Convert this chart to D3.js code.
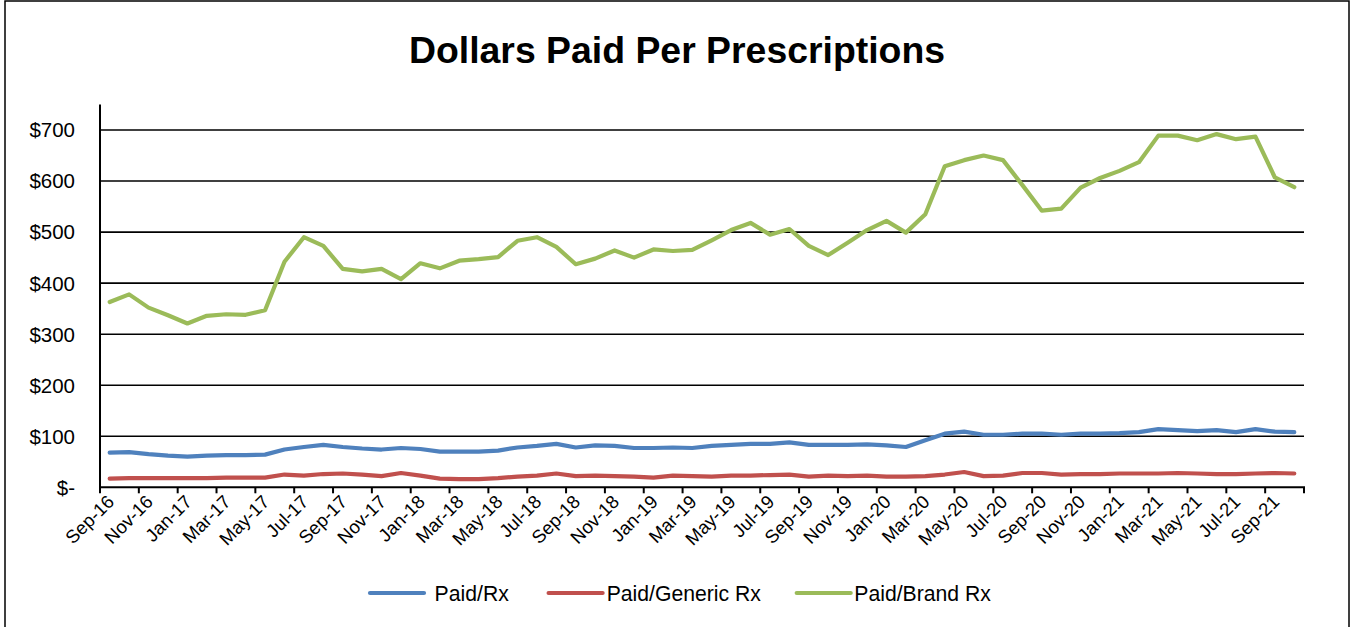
<!DOCTYPE html>
<html>
<head>
<meta charset="utf-8">
<script src="https://cdn.jsdelivr.net/npm/d3@7"></script>
<style>
  html, body { margin: 0; padding: 0; background: #ffffff; }
  svg { display: block; }
  text { font-family: "Liberation Sans", Arial, sans-serif; fill: #000; }
</style>
</head>
<body>
<svg id="chart" width="1356" height="627"></svg>
<script>
// Monthly categories, Sep 2016 through Oct 2021
const categories = [
  "Sep-16","Oct-16","Nov-16","Dec-16",
  "Jan-17","Feb-17","Mar-17","Apr-17","May-17","Jun-17","Jul-17","Aug-17","Sep-17","Oct-17","Nov-17","Dec-17",
  "Jan-18","Feb-18","Mar-18","Apr-18","May-18","Jun-18","Jul-18","Aug-18","Sep-18","Oct-18","Nov-18","Dec-18",
  "Jan-19","Feb-19","Mar-19","Apr-19","May-19","Jun-19","Jul-19","Aug-19","Sep-19","Oct-19","Nov-19","Dec-19",
  "Jan-20","Feb-20","Mar-20","Apr-20","May-20","Jun-20","Jul-20","Aug-20","Sep-20","Oct-20","Nov-20","Dec-20",
  "Jan-21","Feb-21","Mar-21","Apr-21","May-21","Jun-21","Jul-21","Aug-21","Sep-21","Oct-21"
];

// Axis labels shown every other month
const xTickLabels = [
  "Sep-16","Nov-16","Jan-17","Mar-17","May-17","Jul-17","Sep-17","Nov-17",
  "Jan-18","Mar-18","May-18","Jul-18","Sep-18","Nov-18","Jan-19","Mar-19",
  "May-19","Jul-19","Sep-19","Nov-19","Jan-20","Mar-20","May-20","Jul-20",
  "Sep-20","Nov-20","Jan-21","Mar-21","May-21","Jul-21","Sep-21"
];

const yTickValues = [0, 100, 200, 300, 400, 500, 600, 700];
const yTickLabels = ["$-", "$100", "$200", "$300", "$400", "$500", "$600", "$700"];

// Dollars paid per prescription, by month
const paidRx = [
  68, 69, 65, 62, 60, 62, 63, 63, 64, 74, 79, 83, 79, 76, 74, 77, 75, 70, 70, 70, 72,
  78, 81, 85, 78, 82, 81, 77, 77, 78, 77, 81, 83, 85, 85, 88, 83, 83, 83, 84, 82,
  79, 92, 105, 109, 103, 103, 105, 105, 103, 105, 105, 106, 108, 114, 112, 110, 112, 108, 114, 109, 108
];
const paidGenericRx = [
  17, 18, 18, 18, 18, 18, 19, 19, 19, 25, 23, 26, 27, 25, 22, 28, 23, 17, 16, 16, 18,
  21, 23, 27, 22, 23, 22, 21, 19, 23, 22, 21, 23, 23, 24, 25, 21, 23, 22, 23, 21,
  21, 22, 25, 30, 22, 23, 28, 28, 25, 26, 26, 27, 27, 27, 28, 27, 26, 26, 27, 28, 27
];
const paidBrandRx = [
  363, 378, 352, 337, 321, 336, 339, 338, 347, 442, 490, 473, 428, 423, 428, 408, 439, 429, 444, 447, 451,
  483, 490, 471, 437, 448, 464, 450, 466, 463, 465, 484, 504, 518, 495, 506, 473, 455, 479, 504, 522,
  499, 535, 629, 641, 650, 641, 592, 542, 546, 587, 606, 620, 637, 689, 689, 680, 692, 682, 687, 607, 588
];

const seriesNames = ["Paid/Rx", "Paid/Generic Rx", "Paid/Brand Rx"];
const seriesColors = ["#4F81BD", "#C0504D", "#9BBB59"];
const seriesValues = [paidRx, paidGenericRx, paidBrandRx];

const svg = d3.select("#chart");

// Outer chart frame
svg.append("rect")
  .attr("x", 5).attr("y", 1)
  .attr("width", 1344).attr("height", 640)
  .attr("fill", "none").attr("stroke", "#000").attr("stroke-width", 1.5);

// Title
svg.append("text")
  .attr("x", 677).attr("y", 63)
  .attr("text-anchor", "middle")
  .style("font-size", "37.4px").style("font-weight", "bold")
  .text("Dollars Paid Per Prescriptions");

const plot = { left: 100, right: 1304, top: 104.5, bottom: 487.3 };

const x = d3.scaleBand()
  .domain(categories)
  .range([plot.left, plot.right])
  .paddingInner(0).paddingOuter(0);

const y = d3.scaleLinear()
  .domain([0, 750])
  .range([plot.bottom, plot.top]);

const cx = c => x(c) + x.bandwidth() / 2;

// Horizontal gridlines
svg.append("g").selectAll("line")
  .data(yTickValues.filter(v => v > 0))
  .join("line")
  .attr("x1", plot.left).attr("x2", plot.right)
  .attr("y1", d => y(d)).attr("y2", d => y(d))
  .attr("stroke", "#000").attr("stroke-width", 1.6);

// Y tick labels
svg.append("g").selectAll("text")
  .data(yTickValues)
  .join("text")
  .attr("x", 75)
  .attr("y", d => y(d))
  .attr("dy", "0.36em")
  .attr("text-anchor", "end")
  .style("font-size", "20.5px")
  .text((d, i) => yTickLabels[i]);

// Series lines
const line = d3.line()
  .x((d, i) => cx(categories[i]))
  .y(d => y(d));

svg.append("g").selectAll("path")
  .data(seriesValues)
  .join("path")
  .attr("d", d => line(d))
  .attr("fill", "none")
  .attr("stroke", (d, i) => seriesColors[i])
  .attr("stroke-width", 4.2)
  .attr("stroke-linejoin", "round")
  .attr("stroke-linecap", "round");

// Axes lines
svg.append("line")
  .attr("x1", plot.left).attr("x2", plot.left)
  .attr("y1", plot.top).attr("y2", plot.bottom)
  .attr("stroke", "#000").attr("stroke-width", 2);
svg.append("line")
  .attr("x1", plot.left - 1).attr("x2", plot.right + 1)
  .attr("y1", plot.bottom).attr("y2", plot.bottom)
  .attr("stroke", "#000").attr("stroke-width", 2);

// Tick marks at every second category boundary
const tickPositions = categories.filter((c, i) => i % 2 === 0).map(c => x(c)).concat([plot.right]);
svg.append("g").selectAll("line")
  .data(tickPositions)
  .join("line")
  .attr("x1", d => d).attr("x2", d => d)
  .attr("y1", plot.bottom).attr("y2", plot.bottom + 6)
  .attr("stroke", "#000").attr("stroke-width", 2);

// Rotated month labels
svg.append("g").selectAll("text")
  .data(xTickLabels)
  .join("text")
  .attr("text-anchor", "end")
  .attr("transform", d => `translate(${cx(d) + 1},${plot.bottom + 11}) rotate(-45)`)
  .attr("dy", "0.35em")
  .style("font-size", "18.5px")
  .text(d => d);

// Legend
const legendItems = [
  { lx: 370, tx: 434.6 },
  { lx: 548.6, tx: 606.7 },
  { lx: 796.7, tx: 854.3 }
];
const legend = svg.append("g");
legendItems.forEach((it, i) => {
  legend.append("line")
    .attr("x1", it.lx).attr("x2", it.lx + 54)
    .attr("y1", 593).attr("y2", 593)
    .attr("stroke", seriesColors[i]).attr("stroke-width", 4.2)
    .attr("stroke-linecap", "round");
  legend.append("text")
    .attr("x", it.tx).attr("y", 600.5)
    .style("font-size", "21.2px")
    .text(seriesNames[i]);
});
</script>
</body>
</html>
